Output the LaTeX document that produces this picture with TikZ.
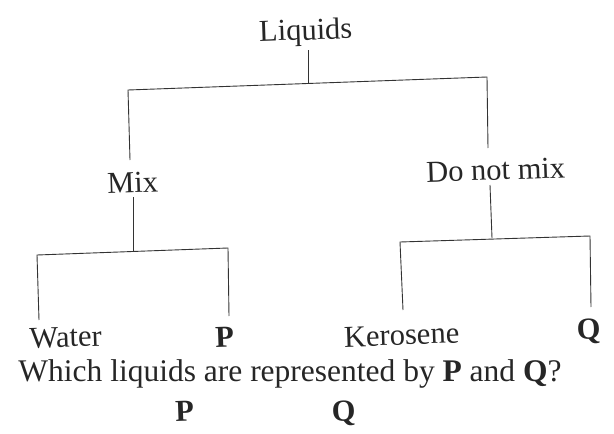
\documentclass[tikz,border=0pt]{standalone}
\usepackage{fontspec}
\setmainfont{Liberation Serif}
\begin{document}
\begin{tikzpicture}[x=1pt,y=-1pt,
  lbl/.style={anchor=base,inner sep=0pt,font=\fontsize{30.5}{36}\selectfont,rotate=2,text=black!85},
  qlbl/.style={anchor=base,inner sep=0pt,font=\fontsize{31.5}{36}\selectfont,text=black!85},
  ln/.style={line width=0.9pt,draw=black!80}]
\useasboundingbox (0,0) rectangle (614,434);
% texts
\node[lbl] (liq) at (306,40) {Liquids};
\node[lbl] (mix) at (133,193) {Mix};
\node[lbl] (dnm) at (496,180) {Do not mix};
\node[lbl] (wat) at (66,347) {Water};
\node[lbl] (p1) at (225,347) {\textbf{P}};
\node[lbl] (ker) at (402,345) {Kerosene};
\node[lbl] (q1) at (589,339) {\textbf{Q}};
\node[qlbl] (ques) at (290,381) {Which liquids are represented by \textbf{P} and \textbf{Q}?};
\node[lbl] (p2) at (185,421) {\textbf{P}};
\node[lbl] (q2) at (344,421) {\textbf{Q}};
% connector ends
\coordinate (liqB) at (308,50);
\coordinate (liqJ) at (308,83.5);
\coordinate (mixT) at (130,160);
\coordinate (cL) at (128,90);
\coordinate (cR) at (487,77);
\coordinate (dnmT) at (488,148);
\coordinate (mixB) at (133,197);
\coordinate (mixJ) at (133,252);
\coordinate (watT) at (39,320);
\coordinate (c2L) at (37,255);
\coordinate (c2R) at (228,248);
\coordinate (p1T) at (229,316);
\coordinate (dnmB) at (490,185);
\coordinate (dnmJ) at (492,238);
\coordinate (kerT) at (403,310);
\coordinate (c3L) at (400,242);
\coordinate (c3R) at (590,236);
\coordinate (q1T) at (591,307);
% connectors
\draw[ln] (liqB) -- (liqJ);
\draw[ln] (mixT) -- (cL) -- (cR) -- (dnmT);
\draw[ln] (mixB) -- (mixJ);
\draw[ln] (watT) -- (c2L) -- (c2R) -- (p1T);
\draw[ln] (dnmB) -- (dnmJ);
\draw[ln] (kerT) -- (c3L) -- (c3R) -- (q1T);
\end{tikzpicture}
\end{document}
